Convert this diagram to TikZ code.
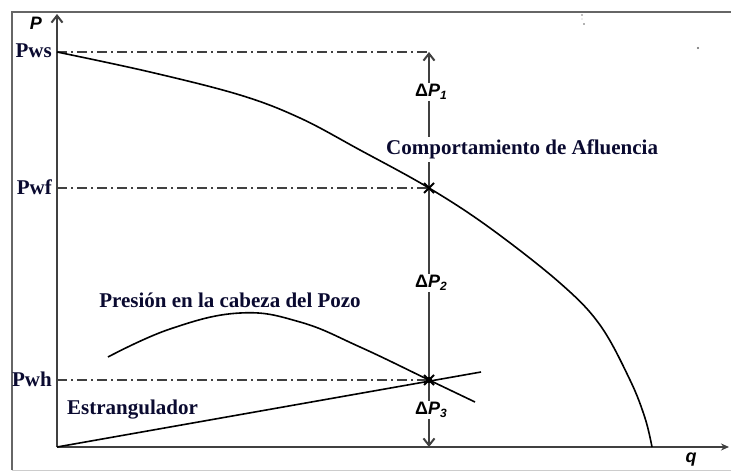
\documentclass[tikz,border=0pt]{standalone}
\usepackage{fontspec}
\setmainfont{Liberation Serif}
\newfontfamily\lsans{Liberation Sans}
\usetikzlibrary{arrows.meta}
\definecolor{lbl}{HTML}{0A0A30}
\definecolor{axc}{HTML}{404040}
\tikzset{
  axis/.style={draw=axc,line width=2.2pt},
  curve/.style={draw=black,line width=1.6pt},
  guide/.style={draw=axc,line width=1.5pt,dash pattern=on 10pt off 4pt on 2pt off 4pt},
  vline/.style={draw=axc,line width=2.2pt},
  lab/.style={font=\fontsize{21}{23}\selectfont\bfseries,text=lbl,inner sep=0pt},
  dlab/.style={font=\lsans\fontsize{18}{20}\selectfont\bfseries,inner sep=1pt},
  tipA/.style={-{Straight Barb[length=7pt,width=11pt,line width=2pt]}}
}
\newcommand{\dP}[1]{Δ\textit{P}\raisebox{-3pt}{\fontsize{12}{12}\selectfont\itshape #1}}
\begin{document}
\begin{tikzpicture}[x=1pt,y=-1pt]
\useasboundingbox (0,0) rectangle (731,471);
\fill[white] (0,0) rectangle (731,471);
% frame
\draw[draw=gray!80!black,line width=2pt] (12,470) -- (12,12) -- (735,12);
\draw[draw=gray!40,line width=0.8pt] (12,470) -- (731,470);
% axes
\coordinate (O) at (57,447);
\coordinate (Ytop) at (57,14);
\coordinate (Xend) at (729,447);
\draw[axis,tipA] (O) -- (Ytop);
\draw[axis,-{Stealth[length=8pt,width=7pt]}] (O) -- (Xend);
\node[font=\lsans\fontsize{18}{20}\selectfont\bfseries\itshape] (P) at (36,23) {P};
\node[font=\lsans\fontsize{18}{20}\selectfont\bfseries\itshape] (q) at (691,460) {q};
% pressure labels
\node[lab,anchor=east] (Pws) at (52,51) {Pws};
\node[lab,anchor=east] (Pwf) at (52,187) {Pwf};
\node[lab,anchor=east] (Pwh) at (52,379) {Pwh};
% guide coordinates
\coordinate (Ws) at (429,52);
\coordinate (Wf) at (429,188);
\coordinate (Wh) at (429,380);
\coordinate (Wb) at (429,447);
\draw[guide] (Pws.east) ++(5,1) -- (Ws);
\draw[guide] (Pwf.east) ++(5,1) -- (Wf);
\draw[guide] (Pwh.east) ++(5,1) -- (Wh);
% delta labels
\node[dlab] (d1) at (431,92) {\dP{1}};
\node[dlab] (d2) at (431,283) {\dP{2}};
\node[dlab] (d3) at (431,410) {\dP{3}};
\node[lab,anchor=west] (comp) at (386,149) {Comportamiento de Afluencia};
\coordinate (c1) at (429,137);
\coordinate (c2) at (429,162);
\draw[vline,tipA] (Ws |- d1.north) -- (Ws);
\draw[vline] (Ws |- d1.south) -- (c1);
\draw[vline] (c2) -- (Ws |- d2.north);
\draw[vline] (Ws |- d2.south) -- (Ws |- d3.north);
\draw[vline,tipA] (Ws |- d3.south) -- (Wb);
% curves
\draw[curve] plot[smooth,tension=0.6] coordinates {(57,52) (150,72) (240,95) (300,118) (360,150) (429,188) (490,228) (560,283) (600,325) (630,380) (645,418) (652,447)};
\draw[curve] plot[smooth,tension=0.7] coordinates {(108,357) (170,329) (240,313) (300,322) (360,347) (429,380) (475,402)};
\draw[curve] (O) -- (481,372);
% crosses
\foreach \c in {Wf,Wh}{
  \draw[line width=1.8pt] (\c) ++(-5,-5) -- ++(10,10);
  \draw[line width=1.8pt] (\c) ++(-5,5) -- ++(10,-10);
}
\fill (Wh) circle (3.2pt);
% text labels
\node[lab] (pres) at (230,300) {Presión en la cabeza del Pozo};
\node[lab,anchor=west] (estr) at (67,410) {Estrangulador};
% specks
\fill[gray] (582,15) circle (0.8pt);
\fill[gray!60] (582,19) circle (0.6pt);
\fill[gray!80!black] (584,24) circle (0.9pt);
\fill[gray!80!black] (698,48) circle (1.2pt);
\end{tikzpicture}
\end{document}
